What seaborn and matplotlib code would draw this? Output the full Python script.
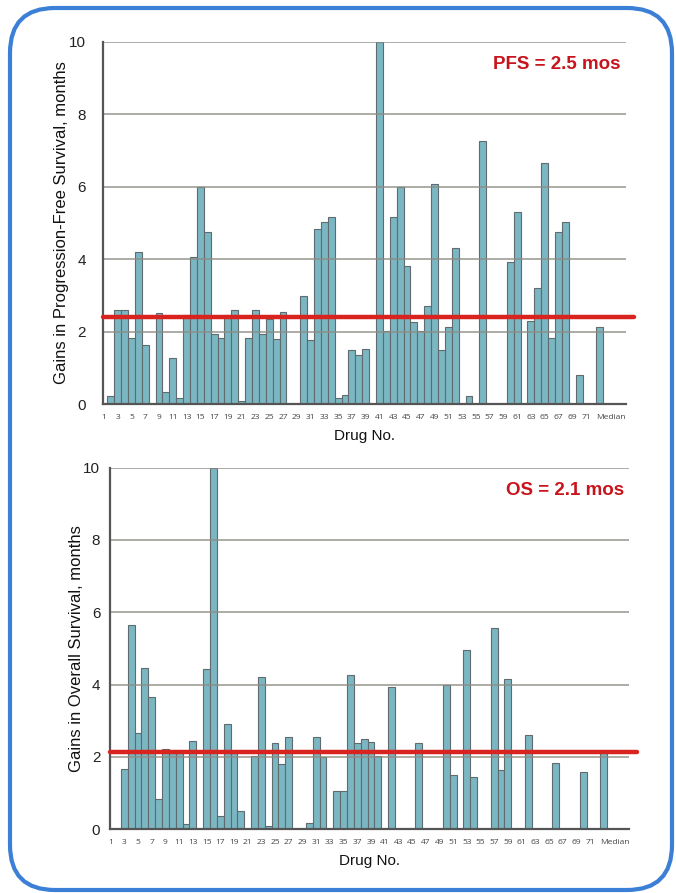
import numpy as np
import pandas as pd
import matplotlib
matplotlib.use("Agg")
import matplotlib.pyplot as plt
from matplotlib.patches import FancyBboxPatch
import seaborn as sns

# categories: drugs 1..72 plus the median bar
drug_labels = [str(i) for i in range(1, 73)] + ["Median"]

nan = np.nan
# gains in progression-free survival (months), nan = no bar
pfs_gain = [nan, 0.22, 2.61, 2.61, 1.83, 4.21, 1.63, nan, 2.51, 0.35,   # 1-10
            1.28, 0.16, 2.45, 4.07, 6.00, 4.74, 1.93, 1.82, 2.45, 2.60,  # 11-20
            0.09, 1.84, 2.59, 1.95, 2.35, 1.81, 2.55, nan, nan, 2.99,    # 21-30
            1.77, 4.84, 5.02, 5.16, 0.17, 0.25, 1.50, 1.35, 1.52, nan,   # 31-40
            10.0, 2.03, 5.16, 6.00, 3.81, 2.27, 2.03, 2.72, 6.07, 1.50,  # 41-50
            2.12, 4.32, nan, 0.22, nan, 7.25, nan, nan, nan, 3.92,       # 51-60
            5.30, nan, 2.30, 3.20, 6.66, 1.84, 4.74, 5.03, nan, 0.80,    # 61-70
            nan, nan, 2.12]                                              # 71, 72, Median

# gains in overall survival (months)
os_gain = [nan, nan, 1.67, 5.66, 2.65, 4.45, 3.65, 0.84, 2.22, 2.12,
           2.12, 0.16, 2.45, nan, 4.42, 10.0, 0.37, 2.91, 2.12, 0.50,
           nan, 2.03, 4.21, 0.09, 2.40, 1.82, 2.56, nan, nan, 0.17,
           2.56, 2.00, nan, 1.07, 1.07, 4.28, 2.38, 2.51, 2.41, 2.02,
           nan, 3.93, nan, nan, nan, 2.38, nan, nan, nan, 4.00,
           1.51, nan, 4.96, 1.45, nan, nan, 5.58, 1.64, 4.15, nan,
           nan, 2.62, nan, nan, nan, 1.84, nan, nan, nan, 1.59,
           nan, nan, 2.12]

pfs_ref_line = 2.4
os_ref_line = 2.13
pfs_note = "PFS = 2.5 mos"
os_note = "OS = 2.1 mos"
y_ticks = [0, 2, 4, 6, 8, 10]

BAR_COLOR = "#7bb7c2"
BAR_EDGE = "#5f6b6e"
GRID_COLOR = "#8d8d85"
RED = "#d9231f"
NOTE_RED = "#c8141c"

sns.set_style("white")
plt.rcParams["font.family"] = ["Liberation Sans", "DejaVu Sans"]


def draw_panel(ax, values, ref_line, ylabel, note, xlim, label_x, ypad):
    df = pd.DataFrame({"drug": drug_labels, "gain": values}).dropna()
    sns.barplot(data=df, x="drug", y="gain", order=drug_labels, color=BAR_COLOR,
                saturation=1, width=1.0, edgecolor=BAR_EDGE, linewidth=0.8,
                errorbar=None, ax=ax, zorder=2)

    ax.set_ylim(0, 10)
    ax.set_xlim(*xlim)
    ax.set_yticks(y_ticks)
    ax.set_yticklabels([str(t) for t in y_ticks], fontsize=11, color="#222222")
    ax.yaxis.grid(True, color=GRID_COLOR, lw=1.2, alpha=0.85, zorder=3)
    ax.set_axisbelow(False)
    ax.xaxis.grid(False)

    # every other drug is labelled; "Median" sits a bit right of its bar
    pos = list(range(0, len(drug_labels) - 1, 2))
    labels = [drug_labels[i] for i in pos] + [drug_labels[-1]]
    ax.set_xticks(pos + [len(drug_labels) - 1 + 1.6])
    ax.set_xticklabels(labels, fontsize=6.0, color="#444444",
                       family=["Open Sans", "DejaVu Sans"])
    ax.tick_params(axis="x", length=0, pad=7)
    ax.tick_params(axis="y", length=0, pad=ypad)

    for side in ["top", "right"]:
        ax.spines[side].set_visible(False)
    for side in ["left", "bottom"]:
        ax.spines[side].set_color("#555555")
        ax.spines[side].set_linewidth(1.6)
        ax.spines[side].set_zorder(4)

    ax.axhline(ref_line, xmin=0, xmax=1.015, color=RED, lw=3.2,
               clip_on=False, zorder=6)

    ax.set_ylabel(ylabel, fontsize=12, color="#111111")
    ax.yaxis.set_label_coords(label_x, 0.5)
    ax.set_xlabel("Drug No.", fontsize=11, color="#111111", labelpad=6)

    ax.text(0.99, 0.938, note, transform=ax.transAxes, ha="right", va="center",
            fontsize=13.5, fontweight="bold", color=NOTE_RED, zorder=7)


fig = plt.figure(figsize=(6.76, 8.93), dpi=100)

# rounded blue frame around the whole slide
bg = fig.add_axes([0, 0, 1, 1], zorder=-10)
bg.set_xlim(0, 676)
bg.set_ylim(893, 0)
bg.axis("off")
bg.add_patch(FancyBboxPatch((10, 8), 662, 882,
                            boxstyle="round,pad=0,rounding_size=45",
                            fill=False, edgecolor="#3b7fd6", lw=3))

ax1 = fig.add_axes([0.152, 0.5473, 0.774, 0.406])
ax2 = fig.add_axes([0.1627, 0.0713, 0.768, 0.405])

draw_panel(ax1, pfs_gain, pfs_ref_line,
           "Gains in Progression-Free Survival, months", pfs_note,
           (-0.17, 75.8), -0.065, 12)
draw_panel(ax2, os_gain, os_ref_line,
           "Gains in Overall Survival, months", os_note,
           (-0.1, 75.7), -0.05, 7)

fig.savefig("out.png", dpi=100)
